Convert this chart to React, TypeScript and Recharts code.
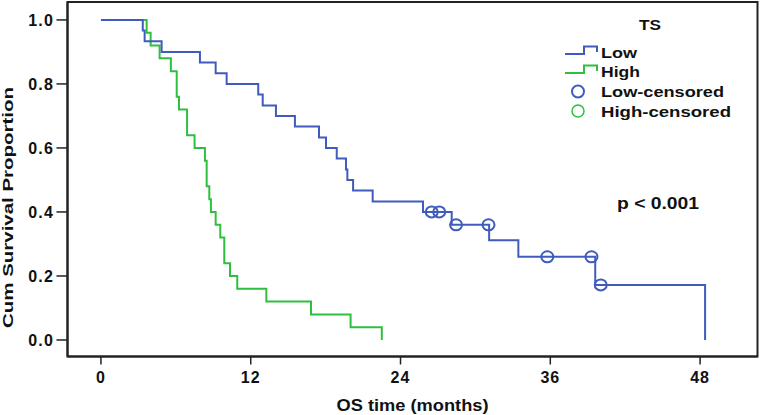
import React from "react";
import {
  ComposedChart, Line, Scatter, XAxis, YAxis, ReferenceArea, Legend,
} from "recharts";

// Kaplan-Meier steps (months, survival proportion)
const lowTimes = [0, 3.35, 3.5, 4.86, 7.93, 9.19, 10.07, 12.6, 12.96, 14.02, 15.54, 17.47, 18.03, 18.89, 19.63, 19.74, 20.2, 21.77, 25.8, 28.1, 31.1, 33.44, 39.6, 48.4];
const lowSurv = [1.0, 0.967, 0.933, 0.9, 0.867, 0.833, 0.8, 0.767, 0.733, 0.7, 0.667, 0.633, 0.6, 0.567, 0.533, 0.5, 0.467, 0.433, 0.4, 0.36, 0.312, 0.26, 0.172, 0];

const highTimes = [0, 3.66, 3.98, 4.7, 5.6, 6.07, 6.25, 6.9, 7.5, 8.33, 8.47, 8.68, 8.81, 9.19, 9.56, 9.88, 10.34, 10.92, 13.25, 16.83, 20.0, 22.5];
const highSurv = [1.0, 0.96, 0.92, 0.88, 0.84, 0.76, 0.72, 0.64, 0.6, 0.56, 0.48, 0.44, 0.4, 0.36, 0.32, 0.24, 0.2, 0.16, 0.12, 0.08, 0.04, 0];

const lowCensorTimes = [26.5, 27.1, 28.45, 31.05, 35.76, 39.3, 40.04];
const lowCensorSurv = [0.4, 0.4, 0.36, 0.36, 0.26, 0.26, 0.172];

const xTicks = [0, 12, 24, 36, 48];
const yTicks = [0, 0.2, 0.4, 0.6, 0.8, 1.0];

const X_DOMAIN: [number, number] = [-2.68, 52.6];
const Y_DOMAIN: [number, number] = [-0.0516, 1.056];

const BLUE = "#3f5cbd";
const GREEN = "#2fbf3f";
const INK = "#111";
const FONT = '"Liberation Sans", Arial, sans-serif';

const rows = (ts: number[], ss: number[]) => ts.map((t, i) => ({ t, s: ss[i] }));
const lowData = rows(lowTimes, lowSurv);
const highData = rows(highTimes, highSurv);
const lowCensorData = rows(lowCensorTimes, lowCensorSurv);

function CensorMark(props: any) {
  const { cx, cy } = props;
  return <ellipse cx={cx} cy={cy} rx={6} ry={5.5} fill="none" stroke={BLUE} strokeWidth={2} />;
}

function XTick(props: any) {
  const { x, y, payload } = props;
  return (
    <text x={x} y={y} dy="0.71em" textAnchor="middle" fontFamily={FONT}
      fontSize={16} fontWeight="bold" fill={INK} letterSpacing={1}>
      {payload.value}
    </text>
  );
}

function YTick(props: any) {
  const { x, y, payload } = props;
  return (
    <text x={x} y={y} dy="0.355em" textAnchor="end" fontFamily={FONT}
      fontSize={16} fontWeight="bold" fill={INK} letterSpacing={1.2}>
      {Number(payload.value).toFixed(1)}
    </text>
  );
}

function YTitle() {
  return (
    <text transform="translate(12.5,207.5) rotate(-90)" textAnchor="middle"
      fontFamily={FONT} fontSize={15} fontWeight="bold" fill={INK}
      textLength={241} lengthAdjust="spacingAndGlyphs">
      Cum Survival Proportion
    </text>
  );
}

function XTitle() {
  return (
    <text x={412.5} y={411} textAnchor="middle" fontFamily={FONT}
      fontSize={16} fontWeight="bold" fill={INK}
      textLength={152} lengthAdjust="spacingAndGlyphs">
      OS time (months)
    </text>
  );
}

function KmLegend() {
  const txt = { fontFamily: FONT, fontWeight: "bold" as const, fill: INK, lengthAdjust: "spacingAndGlyphs" };
  return (
    <svg width={761} height={415} style={{ display: "block" }}>
      <text x={650} y={30} textAnchor="middle" fontSize={14} textLength={22} {...txt}>TS</text>
      <path d="M565,54 H584 V46.5 H597 V52" fill="none" stroke={BLUE} strokeWidth={2} />
      <text x={601} y={57.5} fontSize={15} textLength={36} {...txt}>Low</text>
      <path d="M565,73 H584 V65.5 H597 V71" fill="none" stroke={GREEN} strokeWidth={2} />
      <text x={601} y={77} fontSize={15} textLength={39} {...txt}>High</text>
      <circle cx={578} cy={91.5} r={6} fill="none" stroke={BLUE} strokeWidth={2} />
      <text x={601} y={97} fontSize={15} textLength={123} {...txt}>Low-censored</text>
      <circle cx={578} cy={111} r={6} fill="none" stroke={GREEN} strokeWidth={1.5} />
      <text x={601} y={116.5} fontSize={15} textLength={130} {...txt}>High-censored</text>
      <text x={617} y={209} fontSize={16} textLength={82} {...txt}>p &lt; 0.001</text>
    </svg>
  );
}

export default function App() {
  return (
    <div style={{ position: "absolute", left: 0, top: 0, background: "#fff" }}>
      <ComposedChart width={761} height={415} margin={{ top: 2, right: 3.5, bottom: 0, left: 0 }}>
        <XAxis
          type="number"
          dataKey="t"
          domain={X_DOMAIN}
          ticks={xTicks}
          allowDataOverflow
          interval={0}
          height={58.5}
          tick={<XTick />}
          tickSize={8}
          tickMargin={7.5}
          tickLine={{ stroke: "#222", strokeWidth: 1.5 }}
          axisLine={{ stroke: "#222", strokeWidth: 2 }}
          label={<XTitle />}
        />
        <YAxis
          type="number"
          dataKey="s"
          domain={Y_DOMAIN}
          ticks={yTicks}
          allowDataOverflow
          interval={0}
          width={67.5}
          tick={<YTick />}
          tickSize={11}
          tickMargin={2.5}
          tickLine={{ stroke: "#222", strokeWidth: 1.5 }}
          axisLine={{ stroke: "#222", strokeWidth: 2 }}
          label={<YTitle />}
        />
        <ReferenceArea
          x1={X_DOMAIN[0]} x2={X_DOMAIN[1]} y1={Y_DOMAIN[0]} y2={Y_DOMAIN[1]}
          fill="none" stroke="#222" strokeWidth={2} ifOverflow="visible"
        />
        <Line data={highData} dataKey="s" type="stepAfter" stroke={GREEN} strokeWidth={2}
          dot={false} activeDot={false} isAnimationActive={false} />
        <Line data={lowData} dataKey="s" type="stepAfter" stroke={BLUE} strokeWidth={2}
          dot={false} activeDot={false} isAnimationActive={false} />
        <Scatter data={lowCensorData} dataKey="s" shape={<CensorMark />} isAnimationActive={false} />
        <Legend
          layout="vertical"
          align="center"
          verticalAlign="middle"
          content={<KmLegend />}
          wrapperStyle={{ left: 0, top: 0, width: 761, height: 415, pointerEvents: "none" }}
        />
      </ComposedChart>
    </div>
  );
}
